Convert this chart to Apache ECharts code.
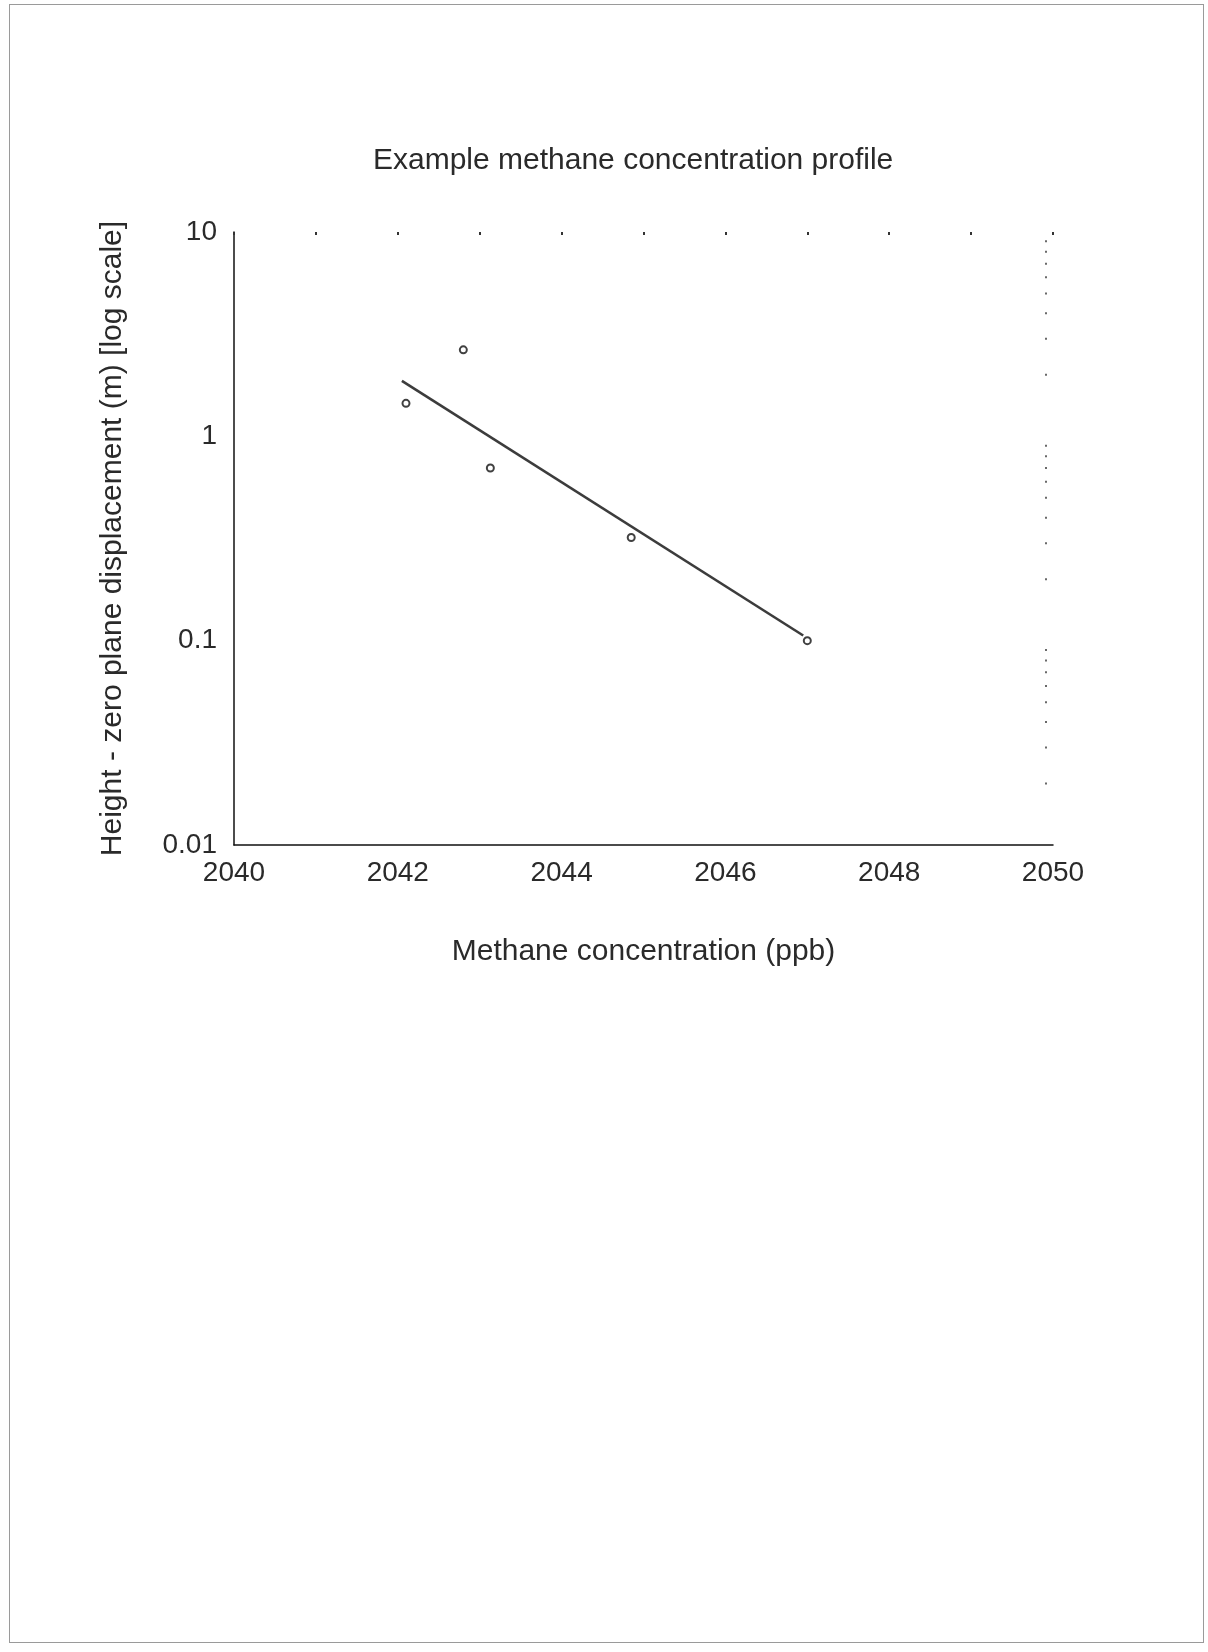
<!DOCTYPE html>
<html>
<head>
<meta charset="utf-8">
<script src="https://cdn.jsdelivr.net/npm/echarts@6/dist/echarts.min.js"></script>
<style>
  html, body { margin: 0; padding: 0; background: #fff; }
  #chart { width: 1208px; height: 1652px; }
  #frame { position: absolute; left: 9px; top: 4px; right: 4px; bottom: 9px; border: 1px solid #9a9a9a; pointer-events: none; }
</style>
</head>
<body>
<div id="chart"></div>
<div id="frame"></div>
<script>
// ---- data ----
const concentration = [2042.1, 2042.8, 2043.13, 2044.85, 2047.0];   // ppb
const heightAboveD  = [1.45, 2.65, 0.70, 0.32, 0.10];               // m
const fitConcentration = [2042.05, 2046.95];
const fitHeight        = [1.87, 0.106];
const xTickLabels = ['2040', '2042', '2044', '2046', '2048', '2050'];
const yTickLabels = ['0.01', '0.1', '1', '10'];
const rightMinorTicks = [2, 3, 4, 5, 6, 7, 8, 9,
                         0.2, 0.3, 0.4, 0.5, 0.6, 0.7, 0.8, 0.9,
                         0.02, 0.03, 0.04, 0.05, 0.06, 0.07, 0.08, 0.09];

const xMin = Number(xTickLabels[0]);
const xMax = Number(xTickLabels[xTickLabels.length - 1]);
const textColor = '#2a2a2a';
const fontFamily = '"Liberation Sans", Arial, sans-serif';

const chart = echarts.init(document.getElementById('chart'), null, { renderer: 'canvas' });

chart.setOption({
  backgroundColor: '#ffffff',
  animation: false,
  title: {
    text: 'Example methane concentration profile',
    left: 368,
    top: 141,
    textStyle: { fontFamily, fontSize: 30, fontWeight: 'normal', color: textColor }
  },
  grid: { left: 234, top: 232, width: 819, height: 613, containLabel: false },
  xAxis: [
    {
      type: 'value',
      position: 'bottom',
      min: xMin, max: xMax, interval: 2,
      name: 'Methane concentration (ppb)',
      nameLocation: 'middle',
      nameGap: 92,
      nameTextStyle: { fontFamily, fontSize: 30, color: textColor },
      axisLine: { show: true, lineStyle: { color: '#111', width: 1.5 } },
      axisTick: { show: false },
      splitLine: { show: false },
      axisLabel: {
        fontFamily, fontSize: 28, color: textColor, margin: 14,
        formatter: v => String(v)
      }
    },
    {
      type: 'value',
      position: 'top',
      min: xMin, max: xMax, interval: 1,
      axisLine: { show: false },
      axisTick: { show: true, inside: true, length: 3, lineStyle: { color: '#333', width: 2 } },
      axisLabel: { show: false },
      splitLine: { show: false }
    }
  ],
  yAxis: [
    {
      type: 'log',
      logBase: 10,
      min: 0.01, max: 10,
      name: 'Height - zero plane displacement (m) [log scale]',
      nameLocation: 'middle',
      nameGap: 106,
      nameTextStyle: { fontFamily, fontSize: 30, color: textColor },
      axisLine: { show: true, lineStyle: { color: '#111', width: 1.5 } },
      axisTick: { show: false },
      splitLine: { show: false },
      axisLabel: {
        fontFamily, fontSize: 28, color: textColor, margin: 17,
        formatter: v => yTickLabels[Math.round(Math.log10(v)) + 2]
      }
    }
  ],
  series: [
    {
      name: 'fit',
      type: 'line',
      data: fitConcentration.map((x, i) => [x, fitHeight[i]]),
      showSymbol: false,
      symbol: 'none',
      lineStyle: { color: '#3c3c3c', width: 2.6 },
      z: 2
    },
    {
      name: 'observations',
      type: 'scatter',
      data: concentration.map((x, i) => [x, heightAboveD[i]]),
      symbol: 'emptyCircle',
      symbolSize: 7,
      itemStyle: { color: '#111', borderColor: '#111', borderWidth: 1.4 },
      z: 3
    },
    {
      name: 'right minor ticks',
      type: 'scatter',
      silent: true,
      data: rightMinorTicks.map(v => [xMax, v]),
      symbol: 'rect',
      symbolSize: [2, 2],
      symbolOffset: [-7, 0],
      itemStyle: { color: '#444' },
      z: 1
    }
  ]
});
</script>
</body>
</html>
